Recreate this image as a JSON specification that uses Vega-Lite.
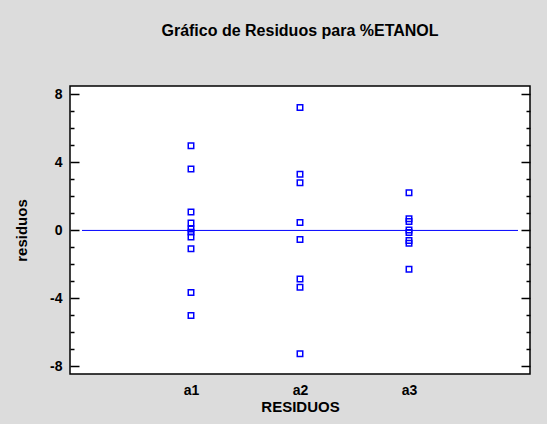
{
  "$schema": "https://vega.github.io/schema/vega-lite/v6.json",
  "width": 460,
  "height": 288,
  "autosize": {"type": "none"},
  "padding": {"left": 70, "top": 86, "right": 17, "bottom": 50},
  "background": "#dcdcdc",
  "title": {
    "text": "Gráfico de Residuos para %ETANOL",
    "font": "Liberation Sans",
    "fontSize": 16,
    "fontWeight": "bold",
    "color": "#000000",
    "offset": 47,
    "anchor": "middle"
  },
  "config": {
    "view": {"fill": "white", "stroke": "#000000", "strokeWidth": 1.5},
    "axis": {
      "labelFont": "Liberation Sans",
      "titleFont": "Liberation Sans",
      "labelFontWeight": "bold",
      "titleFontWeight": "bold",
      "labelColor": "#000000",
      "titleColor": "#000000",
      "labelFontSize": 14,
      "titleFontSize": 15,
      "grid": false,
      "domain": false
    }
  },
  "data": {
    "values": [
      {"grupo": "a1", "residuo": 4.99},
      {"grupo": "a1", "residuo": 3.61},
      {"grupo": "a1", "residuo": 1.09},
      {"grupo": "a1", "residuo": 0.44},
      {"grupo": "a1", "residuo": 0.08},
      {"grupo": "a1", "residuo": -0.10},
      {"grupo": "a1", "residuo": -0.39},
      {"grupo": "a1", "residuo": -1.08},
      {"grupo": "a1", "residuo": -3.65},
      {"grupo": "a1", "residuo": -5.01},
      {"grupo": "a2", "residuo": 7.24},
      {"grupo": "a2", "residuo": 3.31},
      {"grupo": "a2", "residuo": 2.80},
      {"grupo": "a2", "residuo": 0.47},
      {"grupo": "a2", "residuo": -0.53},
      {"grupo": "a2", "residuo": -2.86},
      {"grupo": "a2", "residuo": -3.35},
      {"grupo": "a2", "residuo": -7.26},
      {"grupo": "a3", "residuo": 2.22},
      {"grupo": "a3", "residuo": 0.69},
      {"grupo": "a3", "residuo": 0.53},
      {"grupo": "a3", "residuo": 0.02},
      {"grupo": "a3", "residuo": -0.12},
      {"grupo": "a3", "residuo": -0.59},
      {"grupo": "a3", "residuo": -0.75},
      {"grupo": "a3", "residuo": -2.28}
    ]
  },
  "layer": [
    {
      "mark": {"type": "point", "shape": "square", "filled": false, "size": 30, "stroke": "#0000ff", "strokeWidth": 1.5, "opacity": 1},
      "encoding": {
        "x": {
          "field": "grupo",
          "type": "nominal",
          "scale": {"type": "point", "domain": ["L", "a1", "a2", "a3", "R"], "padding": 0.11},
          "axis": {
            "title": "RESIDUOS",
            "ticks": false,
            "labelAngle": 0,
            "labelPadding": 9,
            "titlePadding": 2,
            "labelExpr": "indexof(['a1','a2','a3'], datum.value) >= 0 ? datum.value : ''"
          }
        },
        "y": {
          "field": "residuo",
          "type": "quantitative",
          "scale": {"domain": [-8.45, 8.5], "nice": false, "zero": false},
          "axis": {
            "orient": "left",
            "title": "residuos",
            "values": [-8, -7, -6, -5, -4, -3, -2, -1, 0, 1, 2, 3, 4, 5, 6, 7, 8],
            "tickSize": {"condition": {"test": "datum.value % 4 === 0", "value": -9}, "value": -4},
            "tickColor": "#000000",
            "tickWidth": 1.5,
            "labelExpr": "datum.value % 4 === 0 ? '' + datum.value : ''",
            "labelPadding": 17,
            "titlePadding": 20
          }
        }
      }
    },
    {
      "data": {"values": [{"ref": 0}]},
      "mark": {"type": "rule", "color": "#0000ff", "strokeWidth": 1},
      "encoding": {
        "x": {"datum": "L", "type": "nominal"},
        "x2": {"datum": "R"},
        "y": {
          "field": "ref",
          "type": "quantitative",
          "axis": {
            "orient": "right",
            "title": null,
            "labels": false,
            "values": [-8, -7, -6, -5, -4, -3, -2, -1, 0, 1, 2, 3, 4, 5, 6, 7, 8],
            "tickSize": {"condition": {"test": "datum.value % 4 === 0", "value": -9}, "value": -4},
            "tickColor": "#000000",
            "tickWidth": 1.5
          }
        }
      }
    }
  ],
  "resolve": {"axis": {"y": "independent"}}
}
